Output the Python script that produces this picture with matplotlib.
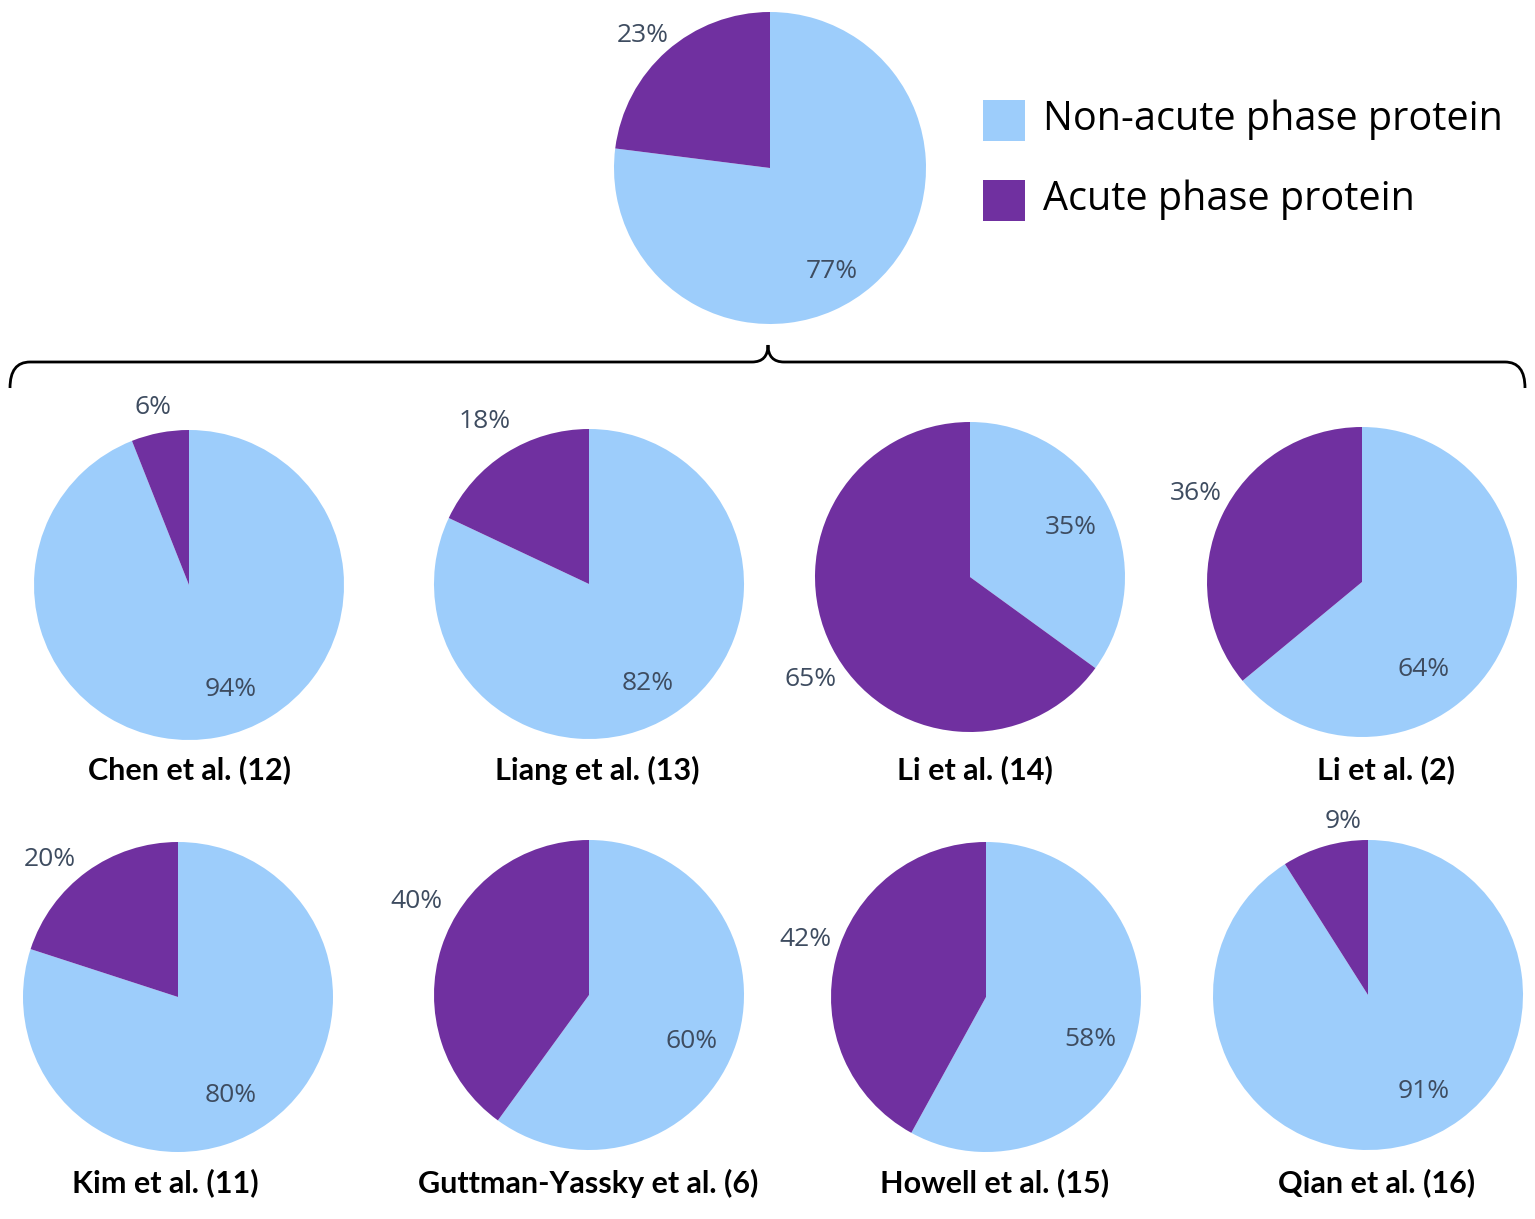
import matplotlib
matplotlib.use("Agg")
import matplotlib.pyplot as plt
import numpy as np
from matplotlib.path import Path
from matplotlib.patches import PathPatch, Rectangle

# 数据：各研究中非急性期 / 急性期蛋白占比 (%)
studies = ["Chen et al. (12)", "Liang et al. (13)", "Li et al. (14)", "Li et al. (2)",
           "Kim et al. (11)", "Guttman-Yassky et al. (6)", "Howell et al. (15)", "Qian et al. (16)"]
non_acute = [94, 82, 35, 64, 80, 60, 58, 91]
acute = [6, 18, 65, 36, 20, 40, 42, 9]
overall_non_acute = 77
overall_acute = 23
legend_labels = ["Non-acute phase protein", "Acute phase protein"]

W, H = 1535, 1219
c_light = "#9DCDFB"
c_purple = "#7030A0"
c_pct = "#3E4C60"

fig = plt.figure(figsize=(W / 100, H / 100), dpi=100)
ax = fig.add_axes([0, 0, 1, 1])
ax.set_xlim(0, W)
ax.set_ylim(0, H)
ax.set_aspect("equal")
ax.axis("off")


def Y(y_px):
    return H - y_px


def draw_pie(cx, cy, r, vals, offs, title=None, title_x=None, title_y=None):
    # offs: 标签相对圆心的像素偏移 (Excel 的 "最佳匹配" 位置)
    ax.pie(vals, colors=[c_light, c_purple], startangle=90, counterclock=False,
           center=(cx, Y(cy)), radius=r, frame=True, wedgeprops=dict(linewidth=0))
    for i in range(2):
        dx, dy = offs[i]
        ax.text(cx + dx, Y(cy + dy), f"{vals[i]}%", ha="center", va="center",
                fontsize=19, color=c_pct, family="Open Sans")
    if title:
        ax.text(title_x, Y(title_y), title, ha="center", va="center", fontsize=22,
                fontweight="bold", family="Lato", color="black")


# 总体饼图
draw_pie(770, 168, 156, [overall_non_acute, overall_acute], [(62, 104), (-127, -133)])

# 各研究饼图
centers = [(189, 585), (589, 584), (970, 577), (1362, 582),
           (178, 997), (589, 995), (986, 997), (1368, 995)]
title_pos = [(189, 770), (597, 770), (975, 770), (1386, 770),
             (165, 1183), (588, 1183), (995, 1183), (1377, 1183)]
label_offs = [[(42, 105), (-36, -177)],
              [(59, 99), (-104, -163)],
              [(101, -50), (-159, 103)],
              [(62, 88), (-166, -88)],
              [(53, 99), (-128, -138)],
              [(103, 47), (-173, -94)],
              [(104, 42), (-181, -57)],
              [(56, 97), (-25, -174)]]
for k in range(len(studies)):
    cx, cy = centers[k]
    tx, ty = title_pos[k]
    draw_pie(cx, cy, 155, [non_acute[k], acute[k]], label_offs[k], studies[k], tx, ty)

ax.set_xlim(0, W)
ax.set_ylim(0, H)

# 图例
for i, (lab, col) in enumerate(zip(legend_labels, [c_light, c_purple])):
    y0 = 120 + i * 80
    ax.add_patch(Rectangle((983, Y(y0 + 21)), 42, 41, facecolor=col, edgecolor="none"))
    ax.text(1043, Y(y0), lab, ha="left", va="center", fontsize=28.5, family="Open Sans",
            color="black")

# 大括号
verts = [(10, Y(388)), (10, Y(362)), (30, Y(362)),
         (752, Y(362)),
         (768, Y(362)), (768, Y(345)),
         (768, Y(362)), (784, Y(362)),
         (1505, Y(362)),
         (1525, Y(362)), (1525, Y(388))]
codes = [Path.MOVETO, Path.CURVE3, Path.CURVE3,
         Path.LINETO,
         Path.CURVE3, Path.CURVE3,
         Path.CURVE3, Path.CURVE3,
         Path.LINETO,
         Path.CURVE3, Path.CURVE3]
ax.add_patch(PathPatch(Path(verts, codes), facecolor="none", edgecolor="black", linewidth=2))

fig.savefig("out.png", dpi=100)
